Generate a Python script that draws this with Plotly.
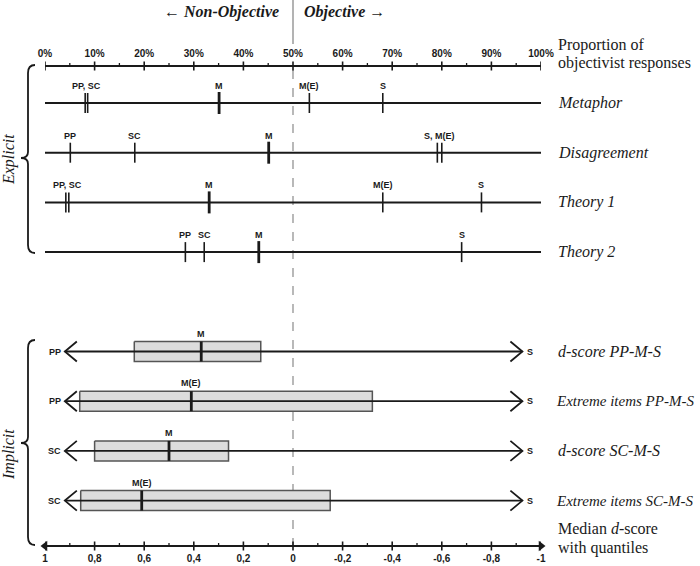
import plotly.graph_objects as go

W, H = 700, 566

# ---------------- data ----------------
pct_ticks = [0, 10, 20, 30, 40, 50, 60, 70, 80, 90, 100]
pct_labels = ["0%", "10%", "20%", "30%", "40%", "50%", "60%", "70%", "80%", "90%", "100%"]
pct_minor = [5, 15, 25, 35, 45, 55, 65, 75, 85, 95]

d_ticks = [1, 0.8, 0.6, 0.4, 0.2, 0, -0.2, -0.4, -0.6, -0.8, -1]
d_labels = ["1", "0,8", "0,6", "0,4", "0,2", "0", "-0,2", "-0,4", "-0,6", "-0,8", "-1"]
d_minor = [0.9, 0.7, 0.5, 0.3, 0.1, -0.1, -0.3, -0.5, -0.7, -0.9]

explicit_items = ["Metaphor", "Disagreement", "Theory 1", "Theory 2"]
explicit_pp = [8.1, 5.1, 4.2, 28.3]
explicit_sc = [8.6, 18.1, 4.8, 32.1]
explicit_m = [35.1, 45.1, 33.1, 43.1]
explicit_me = [53.3, 80.0, 68.1, None]
explicit_s = [68.1, 79.1, 88.0, 84.0]

implicit_items = ["d-score PP-M-S", "Extreme items PP-M-S", "d-score SC-M-S", "Extreme items SC-M-S"]
implicit_left_label = ["PP", "PP", "SC", "SC"]
implicit_right_label = ["S", "S", "S", "S"]
implicit_median_label = ["M", "M(E)", "M", "M(E)"]
implicit_q_upper = [0.64, 0.86, 0.80, 0.856]
implicit_median = [0.37, 0.41, 0.50, 0.61]
implicit_q_lower = [0.13, -0.32, 0.26, -0.15]
arrow_extent = [0.92, -0.925]

midpoint_pct = 50

# ---------------- layout geometry ----------------
AX_L, AX_R = 45, 541           # pixel span of both scales
TOP_AXIS_Y, BOT_AXIS_Y = 66, 546
EXP_Y0, IMP_Y0, ROW_STEP = 103, 351.5, 49.7
D_PER_PX = 2.0 / (AX_R - AX_L)
LBL_X = 556

SANS = "Liberation Sans"
SERIF = "Liberation Serif"
INK = "#1a1a1a"

fig = go.Figure()


def seg_trace(xs, y0s, y1s, xaxis, width, color=INK):
    X, Y = [], []
    for x, a, b in zip(xs, y0s, y1s):
        X += [x, x, None]
        Y += [a, b, None]
    fig.add_trace(go.Scatter(x=X, y=Y, mode="lines", xaxis=xaxis, yaxis="y",
                             line=dict(color=color, width=width),
                             hoverinfo="skip", showlegend=False))


# axis ticks (major crossing, minor above)
seg_trace(pct_ticks, [TOP_AXIS_Y - 4.5] * len(pct_ticks), [TOP_AXIS_Y + 4.5] * len(pct_ticks), "x", 1.6)
seg_trace(pct_minor, [TOP_AXIS_Y - 3] * len(pct_minor), [TOP_AXIS_Y] * len(pct_minor), "x", 1.3)
seg_trace(d_ticks, [BOT_AXIS_Y - 4.5] * len(d_ticks), [BOT_AXIS_Y + 4.5] * len(d_ticks), "x2", 1.6)
seg_trace(d_minor, [BOT_AXIS_Y - 3] * len(d_minor), [BOT_AXIS_Y] * len(d_minor), "x2", 1.3)

# bottom axis arrowheads
fig.add_trace(go.Scatter(x=[d_ticks[0], d_ticks[-1]], y=[BOT_AXIS_Y, BOT_AXIS_Y], xaxis="x2", yaxis="y",
                         mode="markers", marker=dict(symbol=["triangle-left", "triangle-right"], size=9,
                                                     color=INK, line=dict(width=0)),
                         cliponaxis=False, hoverinfo="skip", showlegend=False))

annotations = []

# ---------------- explicit rows ----------------
for i, item in enumerate(explicit_items):
    ry = EXP_Y0 + ROW_STEP * i
    fig.add_trace(go.Scatter(x=[pct_ticks[0], pct_ticks[-1]], y=[ry, ry], xaxis="x", yaxis="y",
                             mode="lines", line=dict(color=INK, width=2),
                             hoverinfo="skip", showlegend=False))
    marks = [("PP", explicit_pp[i]), ("SC", explicit_sc[i]), ("M", explicit_m[i]),
             ("M(E)", explicit_me[i]), ("S", explicit_s[i])]
    marks = sorted([m for m in marks if m[1] is not None], key=lambda m: m[1])
    for lab, v in marks:
        thick = lab == "M"
        seg_trace([v], [ry - (11 if thick else 10)], [ry + (11 if thick else 10)], "x",
                  2.8 if thick else 1.6)
    # group close marks for labels
    groups = []
    for lab, v in marks:
        if groups and v - groups[-1][-1][1] < 1.5:
            groups[-1].append((lab, v))
        else:
            groups.append([(lab, v)])
    for g in groups:
        xv = sum(v for _, v in g) / len(g)
        annotations.append(dict(x=xv, y=ry - 17, xref="x", yref="y", showarrow=False,
                                text="<b>" + ", ".join(l for l, _ in g) + "</b>",
                                font=dict(family=SANS, size=9, color=INK),
                                xanchor="center", yanchor="middle"))
    annotations.append(dict(x=LBL_X / W, y=ry, xref="paper", yref="y", showarrow=False,
                            text="<i>" + item + "</i>", font=dict(family=SERIF, size=16, color=INK),
                            xanchor="left", yanchor="middle"))

# ---------------- implicit rows ----------------
for i, item in enumerate(implicit_items):
    ry = IMP_Y0 + ROW_STEP * i
    qh, qm, ql = implicit_q_upper[i], implicit_median[i], implicit_q_lower[i]
    fig.add_trace(go.Scatter(x=[qh, ql, ql, qh, qh], y=[ry - 10, ry - 10, ry + 10, ry + 10, ry - 10],
                             xaxis="x2", yaxis="y", mode="lines", fill="toself",
                             fillcolor="#dcdcdc", line=dict(color="#555555", width=1.5),
                             hoverinfo="skip", showlegend=False))
    a0, a1 = arrow_extent
    dx = 12 * D_PER_PX
    fig.add_trace(go.Scatter(x=[a0 - dx, a0, a0 - dx, None, a0, a1, None, a1 + dx, a1, a1 + dx],
                             y=[ry - 10, ry, ry + 10, None, ry, ry, None, ry - 10, ry, ry + 10],
                             xaxis="x2", yaxis="y", mode="lines",
                             line=dict(color=INK, width=1.8),
                             hoverinfo="skip", showlegend=False))
    seg_trace([qm], [ry - 10], [ry + 10], "x2", 2.8)
    annotations.append(dict(x=qm, y=ry - 18, xref="x2", yref="y", showarrow=False,
                            text="<b>" + implicit_median_label[i] + "</b>",
                            font=dict(family=SANS, size=9, color=INK), xanchor="center", yanchor="middle"))
    annotations.append(dict(x=a0, y=ry, xref="x2", yref="y", showarrow=False, xshift=-2,
                            text="<b>" + implicit_left_label[i] + "</b>",
                            font=dict(family=SANS, size=9, color=INK), xanchor="right", yanchor="middle"))
    annotations.append(dict(x=a1, y=ry, xref="x2", yref="y", showarrow=False, xshift=3,
                            text="<b>" + implicit_right_label[i] + "</b>",
                            font=dict(family=SANS, size=9, color=INK), xanchor="left", yanchor="middle"))
    long_label = len(item) > 16
    annotations.append(dict(x=(LBL_X - (2 if long_label else 0)) / W, y=ry, xref="paper", yref="y",
                            showarrow=False, text="<i>" + item + "</i>",
                            font=dict(family=SERIF, size=15 if long_label else 16, color=INK),
                            xanchor="left", yanchor="middle"))

# ---------------- text labels ----------------
serif = dict(family=SERIF, size=16, color=INK)
for txt, y in [("Proportion of", 45), ("objectivist responses", 63),
               ("Median <i>d</i>-score", 528), ("with quantiles", 548)]:
    annotations.append(dict(x=LBL_X / W, y=y, xref="paper", yref="y", showarrow=False,
                            text=txt, font=serif, xanchor="left", yanchor="middle"))

annotations.append(dict(x=midpoint_pct, y=12, xref="x", yref="y", showarrow=False, xshift=-12,
                        text="<b><i>← Non-Objective</i></b>", font=serif, xanchor="right", yanchor="middle"))
annotations.append(dict(x=midpoint_pct, y=12, xref="x", yref="y", showarrow=False, xshift=9,
                        text="<b><i>Objective →</i></b>", font=serif, xanchor="left", yanchor="middle"))
annotations.append(dict(x=9 / W, y=160, xref="paper", yref="y", showarrow=False, textangle=-90,
                        text="<i>Explicit</i>", font=serif, xanchor="center", yanchor="middle"))
annotations.append(dict(x=9 / W, y=455, xref="paper", yref="y", showarrow=False, textangle=-90,
                        text="<i>Implicit</i>", font=serif, xanchor="center", yanchor="middle"))


def brace(y0, y1, ym):
    xr, xm, xt = 35 / W, 28 / W, 21 / W
    return (f"M {xr},{y0} Q {xm},{y0} {xm},{y0 + 8} L {xm},{ym - 6} "
            f"Q {xm},{ym} {xt},{ym} Q {xm},{ym} {xm},{ym + 6} "
            f"L {xm},{y1 - 8} Q {xm},{y1} {xr},{y1}")


shapes = [
    dict(type="line", xref="x", yref="y", x0=midpoint_pct, x1=midpoint_pct, y0=0, y1=44,
         line=dict(color="#9a9a9a", width=1.5)),
    dict(type="line", xref="x", yref="y", x0=midpoint_pct, x1=midpoint_pct, y0=70, y1=BOT_AXIS_Y,
         line=dict(color="#8a8a8a", width=1.2, dash="dash"), layer="below"),
    dict(type="path", xref="paper", yref="y", path=brace(65, 253, 158),
         line=dict(color=INK, width=1.8)),
    dict(type="path", xref="paper", yref="y", path=brace(340, 545, 443),
         line=dict(color=INK, width=1.8)),
]

tickfont = dict(family=SANS, size=10, color=INK, weight="bold")
fig.update_layout(
    width=W, height=H, margin=dict(l=0, r=0, t=0, b=0, autoexpand=False),
    paper_bgcolor="white", plot_bgcolor="white", showlegend=False,
    xaxis=dict(domain=[AX_L / W, AX_R / W], range=[0, 100], side="top", anchor="free",
               position=1 - TOP_AXIS_Y / H, showline=True, linewidth=2, linecolor=INK,
               ticks="", tickvals=pct_ticks, ticktext=pct_labels, tickfont=tickfont,
               ticklabelstandoff=4, showgrid=False, zeroline=False, fixedrange=True,
               automargin=False),
    xaxis2=dict(overlaying="x", range=[1, -1], side="bottom", anchor="free",
                position=1 - BOT_AXIS_Y / H, showline=True, linewidth=2, linecolor=INK,
                ticks="", tickvals=d_ticks, ticktext=d_labels, tickfont=tickfont,
                ticklabelstandoff=3, showgrid=False, zeroline=False, fixedrange=True,
                automargin=False),
    yaxis=dict(domain=[0, 1], range=[H, 0], visible=False, fixedrange=True, automargin=False),
    annotations=annotations, shapes=shapes,
)

fig.write_html("out.html", config={"displayModeBar": False},
               post_script="document.body.style.margin='0px';")
